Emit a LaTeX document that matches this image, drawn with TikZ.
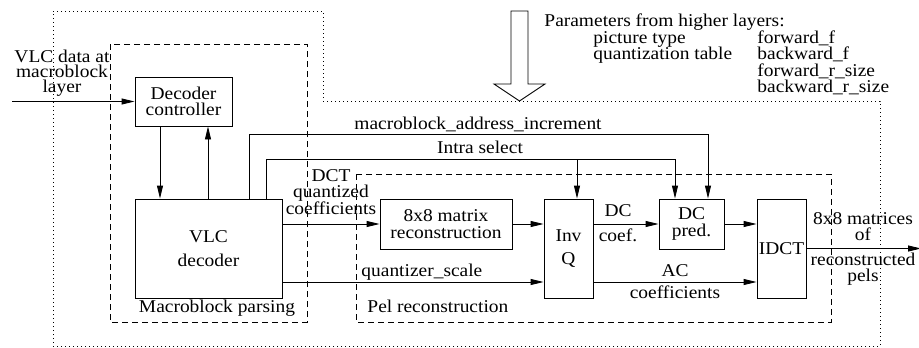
\documentclass[tikz,border=0pt]{standalone}
\usepackage{fontspec}
\setmainfont{Liberation Serif}[FakeStretch=1.08]
\usetikzlibrary{arrows.meta,positioning}

\begin{document}
\begin{tikzpicture}[x=1pt,y=-1pt,line width=0.9pt,
  font=\fontsize{18}{16.5}\selectfont,
  >={Triangle[length=13pt,width=6pt]}]
\tikzset{block/.style={draw,align=center,inner sep=0pt}}
\tikzset{lbl/.style={anchor=base,inner sep=0pt}}
\tikzset{lblw/.style={anchor=base west,inner sep=0pt}}
\tikzset{dashbox/.style={dash pattern=on 6pt off 4pt}}
\tikzset{dotbox/.style={dash pattern=on 1pt off 3pt}}
\useasboundingbox (0,0) rectangle (919,348);

% outer and group frames
\draw[dotbox] (53,11) -- (323,11) -- (323,101) -- (880,101) -- (880,346) -- (53,346) -- cycle;
\draw[dashbox] (110,44) rectangle (307,322);
\draw[dashbox] (356,174) rectangle (831,322);

% blocks
\node[block,minimum width=97pt,minimum height=49pt] (ctrl) at (183.5,101.5) {Decoder\\controller};
\node[block,minimum width=147pt,minimum height=99pt] (vlc) at (208.5,248.5) {VLC\\[7pt]decoder};
\node[block,minimum width=132pt,minimum height=50pt] (mat) at (446,224) {8x8 matrix\\reconstruction};
\node[block,minimum width=49pt,minimum height=99pt] (invq) at (568.5,248.5) {Inv\\[7pt]Q};
\node[block,minimum width=65pt,minimum height=50pt] (dcp) at (691.5,224) {DC\\pred.};
\node[block,minimum width=49pt,minimum height=99pt] (idct) at (781.5,248.5) {IDCT};

% parameters arrow
\draw (511,11) -- (528,11) -- (528,84) -- (545,84) -- (519.5,101) -- (494,84) -- (511,84) -- cycle;

\coordinate (in) at (12,101.5);
\coordinate (out) at (921,248.5);
\coordinate (mai1) at (249,134);
\coordinate (mai2) at (708,134);
\coordinate (isel1) at (266,159);
\coordinate (isel2) at (577,159);
\coordinate (isel3) at (675,159);

% connections
\draw[->] (in) -- (ctrl.west);
\draw[->] ([xshift=-23.5pt]ctrl.south) -- ([xshift=-23.5pt]ctrl.south |- vlc.north);
\draw[->] ([xshift=24.5pt]ctrl.south |- vlc.north) -- ([xshift=24.5pt]ctrl.south);
\draw[->] (vlc.north -| mai1) -- (mai1) -- (mai2) -- (dcp.north -| mai2);
\draw[->] (vlc.north -| isel1) -- (isel1) -- (isel3) -- (dcp.north -| isel3);
\draw[->] (isel2) -- (invq.north -| isel2);
\draw[->] (vlc.east |- mat.west) -- (mat.west);
\draw[->] (mat.east) -- (invq.west |- mat.east);
\draw[->] (invq.east |- dcp.west) -- (dcp.west);
\draw[->] (dcp.east) -- (idct.west |- dcp.east);
\draw[->] ([yshift=-33.5pt]vlc.east) -- ([yshift=-33.5pt]invq.west);
\draw[->] ([yshift=-33.5pt]invq.east) -- ([yshift=-33.5pt]idct.west);
\draw[->] (idct.east) -- (out);

% labels
\node[lbl] (in1) at (62,62) {VLC data at};
\node[lbl] (in2) at (62,77) {macroblock};
\node[lbl] (in3) at (62,92) {layer};
\node[lblw] (par) at (544,26.5) {Parameters from higher layers:};
\node[lblw] (par1) at (593,43) {picture type};
\node[lblw] (par2) at (593,59.5) {quantization table};
\node[lblw] (par3) at (757,43) {forward\_f};
\node[lblw] (par4) at (757,59.5) {backward\_f};
\node[lblw] (par5) at (757,76) {forward\_r\_size};
\node[lblw] (par6) at (757,92.5) {backward\_r\_size};
\node[lbl] (mai) at (478,129) {macroblock\_address\_increment};
\node[lbl] (isel) at (480,153) {Intra select};
\node[lbl] (dct1) at (331,181) {DCT};
\node[lbl] (dct2) at (331,197) {quantized};
\node[lbl] (dct3) at (331,214) {coefficients};
\node[lblw] (qs) at (361,276) {quantizer\_scale};
\node[lbl] (dc1) at (618,216) {DC};
\node[lbl] (dc2) at (618,241) {coef.};
\node[lbl] (ac1) at (675,276) {AC};
\node[lbl] (ac2) at (675,298) {coefficients};
\node[lbl] (o1) at (863,224) {8x8 matrices};
\node[lbl] (o2) at (863,240.5) {of};
\node[lbl] (o3) at (863,265) {reconstructed};
\node[lbl] (o4) at (863,281.5) {pels};
\node[lbl] (mbp) at (217,312) {Macroblock parsing};
\node[lblw] (pel) at (367,312) {Pel reconstruction};
\end{tikzpicture}
\end{document}
